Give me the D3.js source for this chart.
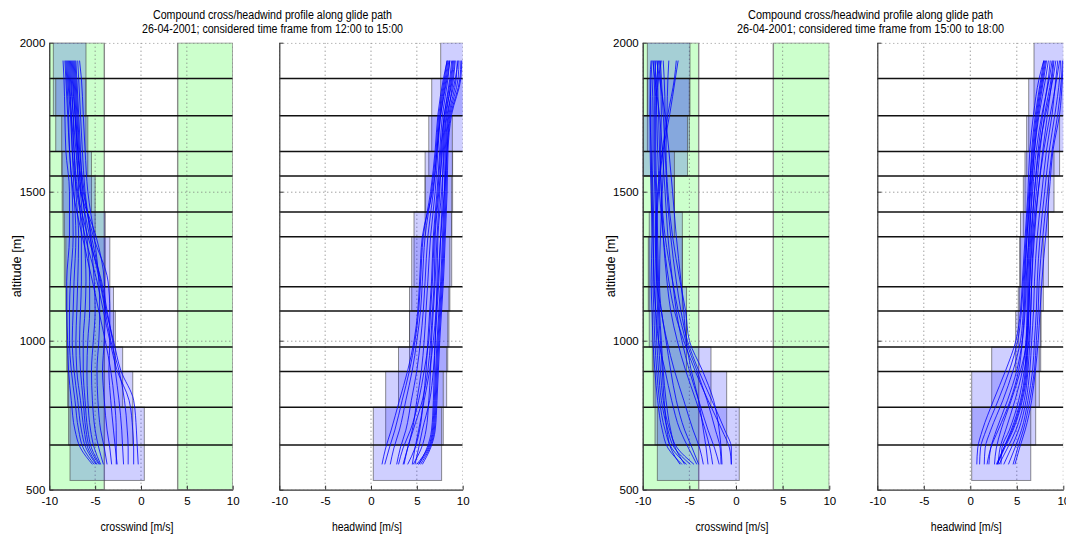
<!DOCTYPE html>
<html><head><meta charset="utf-8">
<script src="https://cdn.jsdelivr.net/npm/d3@7"></script>
<style>
body{margin:0;background:#fff}
svg{display:block}
text{font-family:"Liberation Sans",Arial,Helvetica,sans-serif;fill:#000}
</style>
</head><body>
<svg id="chart" width="1066" height="537"></svg>
<script>
// ---------------- DATA ----------------
const xTicks = [-10, -5, 0, 5, 10];
const yTicks = [500, 1000, 1500, 2000];
// glide-path segment boundaries (altitude, m)
const bandEdges = [2000, 1880, 1755, 1635, 1553, 1432, 1349, 1181, 1100, 979, 897, 777, 650, 531];
// altitudes at which the profile values are read
const profileAlt = [1940, 1880, 1760, 1640, 1500, 1350, 1200, 1100, 1000, 900, 800, 700, 640, 585];

const titles1 = ["Compound cross/headwind profile along glide path", "Compound cross/headwind profile along glide path"];
const titles2 = ["26-04-2001; considered time frame from 12:00 to 15:00", "26-04-2001; considered time frame from 15:00 to 18:00"];

// min / max boxes, one per 2-segment window
const crossBoxMin1 = [-9.56, -9.3, -8.65, -8.6, -8.5, -8.36, -8.2, -8.1, -8.1, -8.0, -7.9, -7.74];
const crossBoxMax1 = [-6.0, -6.0, -5.8, -5.4, -5.0, -3.9, -3.4, -3.0, -2.8, -2.0, -0.9, 0.36];
const headBoxMin1  = [7.6, 6.62, 6.3, 5.9, 5.9, 4.69, 4.44, 4.2, 4.2, 3.0, 1.6, 0.25];
const headBoxMax1  = [10.5, 10.5, 8.87, 8.9, 8.8, 8.8, 8.6, 8.5, 8.37, 8.25, 7.88, 7.7];
const crossBoxMin2 = [-9.5, -9.5, -10.2, -9.1, -9.0, -9.3, -9.4, -9.3, -8.97, -8.86, -8.68, -8.43];
const crossBoxMax2 = [-4.93, -5.0, -5.2, -6.6, -6.6, -5.75, -5.75, -5.3, -5.3, -2.68, -1.0, 0.35];
const headBoxMin2  = [6.85, 6.28, 6.06, 5.88, 5.7, 5.4, 5.3, 5.16, 4.88, 2.3, 0.15, 0.15];
const headBoxMax2  = [10.5, 10.5, 9.6, 9.0, 8.4, 8.4, 7.85, 7.6, 7.57, 7.42, 7.03, 6.5];

// crosswind profiles 12:00-15:00 (values at profileAlt)
const crossProfiles1 = [
 [-8.5,-8.4,-8.3,-8.2,-7.8,-7.8,-8.1,-8.1,-8.0,-7.9,-7.6,-7.2,-6.6,-5.3],
 [-8.2,-8.1,-7.9,-7.8,-7.5,-7.4,-7.7,-7.8,-7.8,-7.6,-7.2,-6.8,-6.3,-5.1],
 [-7.9,-7.8,-7.6,-7.5,-7.3,-7.1,-7.3,-7.4,-7.5,-7.3,-6.9,-6.5,-6.0,-4.9],
 [-7.7,-7.6,-7.4,-7.3,-7.1,-6.8,-6.9,-7.0,-7.1,-7.0,-6.6,-6.2,-5.8,-4.8],
 [-7.5,-7.4,-7.2,-7.0,-6.8,-6.5,-6.5,-6.6,-6.7,-6.6,-6.3,-6.0,-5.6,-4.6],
 [-7.3,-7.2,-7.0,-6.8,-6.6,-6.2,-6.0,-6.1,-6.3,-6.3,-6.1,-5.8,-5.4,-4.5],
 [-7.1,-7.0,-6.8,-6.6,-6.4,-5.9,-5.6,-5.6,-5.8,-5.9,-5.8,-5.5,-5.1,-4.4],
 [-6.9,-6.8,-6.6,-6.4,-6.1,-5.5,-5.1,-5.0,-5.2,-5.4,-5.3,-5.0,-4.6,-4.1],
 [-6.7,-6.5,-6.3,-6.1,-5.8,-5.1,-4.6,-4.5,-4.6,-4.8,-4.7,-4.4,-4.0,-3.7],
 [-7.8,-7.7,-7.4,-7.1,-6.6,-4.9,-4.0,-3.9,-4.0,-4.2,-4.0,-3.7,-3.4,-3.2],
 [-7.6,-7.5,-7.2,-6.9,-6.3,-5.2,-3.6,-3.4,-3.4,-3.5,-3.3,-3.0,-2.8,-2.6],
 [-8.0,-7.9,-7.6,-7.3,-6.9,-5.8,-4.3,-3.7,-3.1,-2.8,-2.4,-2.1,-2.0,-1.9],
 [-7.4,-7.3,-7.1,-6.9,-6.5,-5.6,-4.5,-3.9,-3.3,-2.4,-1.8,-1.5,-1.4,-1.4],
 [-8.1,-8.0,-7.7,-7.5,-7.0,-6.1,-4.8,-4.1,-3.4,-2.6,-1.3,-0.9,-0.8,-0.8],
 [-7.2,-7.1,-6.9,-6.7,-6.2,-5.4,-4.4,-3.8,-3.0,-2.2,-0.8,-0.5,-0.4,-0.3],
 [-8.3,-8.2,-8.0,-7.8,-7.4,-6.4,-5.3,-4.6,-3.9,-3.3,-2.9,-2.7,-2.7,-2.7]
];
// headwind profiles 12:00-15:00
const headProfiles1 = [
 [9.9,9.8,8.8,8.4,8.3,8.1,7.9,7.7,7.5,7.35,7.2,7.0,6.5,5.6],
 [9.6,9.5,8.6,8.3,8.2,8.0,7.8,7.6,7.4,7.25,7.1,6.9,6.4,5.4],
 [9.4,9.3,8.5,8.2,8.1,7.9,7.7,7.5,7.3,7.15,7.0,6.8,6.3,5.2],
 [9.2,9.0,8.4,8.1,8.0,7.8,7.6,7.4,7.2,7.05,6.9,6.7,6.2,5.0],
 [9.0,8.8,8.2,7.9,7.8,7.6,7.4,7.2,7.0,6.9,6.8,6.6,6.1,5.2],
 [8.8,8.6,8.0,7.7,7.5,7.2,7.0,6.8,6.6,6.5,6.3,6.0,5.5,4.6],
 [8.6,8.4,7.8,7.5,7.2,6.8,6.6,6.4,6.2,6.0,5.7,5.3,4.8,4.0],
 [8.5,8.2,7.6,7.3,7.0,6.5,6.2,6.0,5.8,5.5,5.0,4.5,4.0,3.5],
 [8.4,8.1,7.5,7.2,6.8,6.2,5.9,5.7,5.4,5.0,4.4,3.8,3.2,2.8],
 [8.3,8.0,7.4,7.1,6.6,5.9,5.6,5.4,5.0,4.5,3.8,3.1,2.5,2.1],
 [8.3,7.9,7.3,7.0,6.5,5.7,5.4,5.2,4.8,4.2,3.4,2.6,2.0,1.5],
 [8.6,8.3,7.6,7.2,6.7,5.6,5.3,5.1,4.7,4.0,3.1,2.2,1.6,1.2],
 [9.1,8.9,8.1,7.8,7.4,7.0,6.9,6.7,6.5,6.2,5.6,4.6,4.0,3.6],
 [9.8,9.7,8.7,8.3,8.0,7.6,7.3,7.1,6.8,6.4,5.8,5.2,4.8,4.5],
 [9.5,9.2,8.3,8.0,7.7,7.3,7.2,7.1,7.0,6.8,6.4,5.6,5.2,4.8],
 [8.9,8.7,8.0,7.6,7.3,6.9,6.7,6.5,6.3,5.8,5.2,4.3,3.5,3.0]
];
// crosswind profiles 15:00-18:00
const crossProfiles2 = [
 [-9.0,-9.1,-9.2,-9.2,-9.1,-9.0,-9.1,-9.0,-8.9,-8.7,-8.4,-7.9,-7.3,-5.8],
 [-8.8,-8.9,-9.0,-9.0,-8.9,-8.8,-8.9,-8.8,-8.7,-8.5,-8.2,-7.6,-6.9,-5.3],
 [-8.6,-8.7,-8.8,-8.8,-8.7,-8.6,-8.7,-8.6,-8.5,-8.3,-8.0,-7.3,-6.6,-4.9],
 [-8.3,-8.5,-8.7,-8.7,-8.6,-8.5,-8.5,-8.4,-8.3,-8.1,-7.8,-7.1,-6.3,-4.5],
 [-8.0,-8.3,-8.6,-8.6,-8.5,-8.4,-8.3,-8.2,-8.0,-7.8,-7.5,-7.0,-6.5,-5.5],
 [-6.2,-6.5,-7.1,-7.8,-8.3,-8.5,-8.4,-8.3,-8.1,-7.9,-7.7,-7.4,-7.0,-6.0],
 [-6.4,-6.6,-7.3,-7.9,-8.4,-8.6,-8.5,-8.0,-7.5,-7.0,-6.4,-5.5,-4.7,-4.0],
 [-8.9,-8.7,-8.2,-7.9,-7.6,-7.3,-6.8,-6.4,-5.8,-5.0,-4.0,-3.0,-2.3,-1.8],
 [-8.5,-8.2,-7.6,-7.2,-6.8,-6.4,-5.9,-5.6,-5.3,-4.2,-3.1,-2.2,-1.7,-1.6],
 [-8.7,-8.6,-8.5,-8.4,-8.2,-7.8,-7.2,-6.6,-5.6,-4.4,-3.0,-1.5,-0.7,-0.5],
 [-8.1,-8.0,-7.8,-7.6,-7.4,-7.0,-6.4,-5.9,-5.2,-4.0,-2.6,-1.2,-0.5,-0.5],
 [-8.4,-8.4,-8.3,-8.2,-8.0,-7.8,-7.4,-7.0,-6.3,-5.4,-4.3,-3.3,-2.8,-2.5],
 [-7.2,-7.3,-7.4,-7.5,-7.3,-6.8,-6.0,-5.4,-5.0,-3.6,-2.4,-1.8,-1.6,-1.5],
 [-8.2,-8.1,-8.0,-8.1,-8.0,-7.6,-6.8,-6.2,-5.4,-4.8,-4.0,-3.5,-3.2,-3.0],
 [-9.1,-9.2,-9.2,-9.1,-9.0,-8.9,-8.8,-8.6,-8.3,-7.6,-6.9,-6.0,-5.1,-4.2],
 [-7.8,-7.7,-7.6,-7.7,-7.9,-8.1,-8.2,-8.0,-7.4,-6.6,-5.6,-4.6,-3.9,-3.5]
];
// headwind profiles 15:00-18:00
const headProfiles2 = [
 [9.9,9.8,9.4,8.8,8.3,7.8,7.4,7.3,7.1,6.9,6.4,5.7,5.1,4.6],
 [9.7,9.6,9.1,8.5,8.0,7.5,7.2,7.1,6.9,6.7,6.2,5.5,4.8,4.1],
 [9.4,9.2,8.8,8.2,7.7,7.2,6.9,6.8,6.6,6.4,6.0,5.2,4.4,3.6],
 [9.0,8.8,8.3,7.8,7.3,6.9,6.6,6.5,6.4,6.2,5.8,4.9,4.0,3.1],
 [8.6,8.4,7.8,7.3,6.9,6.6,6.4,6.3,6.2,6.1,5.6,4.6,3.7,2.9],
 [8.2,7.9,7.3,6.9,6.6,6.4,6.2,6.2,6.1,6.0,5.5,4.5,3.6,2.8],
 [7.9,7.6,7.0,6.6,6.4,6.3,6.1,6.1,6.0,5.9,5.4,4.4,3.6,2.9],
 [9.2,8.9,8.1,7.4,6.9,6.5,6.3,6.2,6.0,5.6,4.8,3.8,3.2,3.0],
 [8.8,8.5,7.7,7.1,6.7,6.3,6.0,5.9,5.6,5.0,4.0,2.8,2.2,2.0],
 [8.4,8.1,7.4,6.9,6.5,6.1,5.8,5.7,5.4,4.6,3.5,2.2,1.6,1.5],
 [8.0,7.7,7.1,6.7,6.3,6.0,5.7,5.5,5.1,4.2,3.0,1.7,1.1,1.0],
 [7.9,7.4,6.8,6.4,6.2,5.9,5.6,5.4,4.9,3.8,2.5,1.3,0.8,0.7],
 [9.6,9.3,8.6,7.9,7.3,6.8,6.6,6.5,6.3,5.8,5.2,4.2,3.4,3.3],
 [8.9,8.7,8.0,7.5,7.1,6.7,6.4,6.3,6.1,5.4,4.4,3.3,2.8,2.6],
 [10.0,9.9,9.6,8.9,8.5,8.1,7.7,7.5,7.3,7.0,6.6,5.9,5.3,4.8],
 [8.1,7.8,7.2,6.8,6.4,6.1,5.9,5.8,5.6,5.2,4.3,3.0,2.2,1.8]
];
// comfort limits shaded green on the crosswind panels
const crossLimitBands = [[-10, -4], [4, 10]];

// ---------------- LAYOUT ----------------
const figures = [
  {titleX: 272.5, tw1: 239, tw2: 261, ylabX: 21,
   panels: [
    {x0: 49.3, x1: 232.7, kind: "cross", label: "crosswind [m/s]", lw: 73, boxMin: crossBoxMin1, boxMax: crossBoxMax1, prof: crossProfiles1},
    {x0: 279.3, x1: 462.7, kind: "head", label: "headwind [m/s]", lw: 70, boxMin: headBoxMin1, boxMax: headBoxMax1, prof: headProfiles1}
  ]},
  {titleX: 870.5, tw1: 245, tw2: 267, ylabX: 615,
   panels: [
    {x0: 642.7, x1: 829.3, kind: "cross", label: "crosswind [m/s]", lw: 73, boxMin: crossBoxMin2, boxMax: crossBoxMax2, prof: crossProfiles2},
    {x0: 877.3, x1: 1063.3, kind: "head", label: "headwind [m/s]", lw: 71, boxMin: headBoxMin2, boxMax: headBoxMax2, prof: headProfiles2}
  ]}
];
const yTop = 42.7, yBot = 489.7;
const svg = d3.select("#chart");
const defs = svg.append("defs");
const y = d3.scaleLinear().domain([500, 2000]).range([yBot, yTop]);

figures.forEach((fig, fi) => {
  // titles
  svg.append("text").attr("x", fig.titleX).attr("y", 19).attr("text-anchor", "middle")
    .attr("font-size", 12).attr("textLength", fig.tw1).attr("lengthAdjust", "spacingAndGlyphs").text(titles1[fi]);
  svg.append("text").attr("x", fig.titleX).attr("y", 33).attr("text-anchor", "middle")
    .attr("font-size", 12).attr("textLength", fig.tw2).attr("lengthAdjust", "spacingAndGlyphs").text(titles2[fi]);
  // y label
  svg.append("text").attr("transform", `translate(${fig.ylabX},${(yTop + yBot) / 2}) rotate(-90)`)
    .attr("text-anchor", "middle").attr("font-size", 12).attr("textLength", 62)
    .attr("lengthAdjust", "spacingAndGlyphs").text("altitude [m]");

  fig.panels.forEach((p, pi) => {
    const x = d3.scaleLinear().domain([-10, 10]).range([p.x0, p.x1]);
    const cid = `clip${fi}${pi}`;
    defs.append("clipPath").attr("id", cid).append("rect")
      .attr("x", p.x0).attr("y", yTop).attr("width", p.x1 - p.x0).attr("height", yBot - yTop);
    const g = svg.append("g");
    const inner = g.append("g").attr("clip-path", `url(#${cid})`);

    if (p.kind === "cross") {
      inner.selectAll("rect.lim").data(crossLimitBands).join("rect").attr("class", "lim")
        .attr("x", d => x(d[0])).attr("width", d => x(d[1]) - x(d[0]))
        .attr("y", y(2000)).attr("height", y(500) - y(2000))
        .attr("fill", "#ccffcc").attr("stroke", "#8a8a8a").attr("stroke-width", 1.4);
    }
    // grid
    inner.selectAll("line.gx").data(xTicks).join("line").attr("class", "gx")
      .attr("x1", d => x(d)).attr("x2", d => x(d)).attr("y1", yTop).attr("y2", yBot)
      .attr("stroke", "#777").attr("stroke-width", 1).attr("stroke-dasharray", "1,3");
    inner.selectAll("line.gy").data(yTicks).join("line").attr("class", "gy")
      .attr("x1", p.x0).attr("x2", p.x1).attr("y1", d => y(d) + 0.5).attr("y2", d => y(d) + 0.5)
      .attr("stroke", "#777").attr("stroke-width", 1).attr("stroke-dasharray", "1,3");

    // min/max boxes
    const boxes = p.boxMin.map((mn, k) => ({mn, mx: p.boxMax[k], top: bandEdges[k], bot: bandEdges[k + 2]}));
    inner.selectAll("rect.box").data(boxes).join("rect").attr("class", "box")
      .attr("x", d => x(d.mn)).attr("width", d => x(d.mx) - x(d.mn))
      .attr("y", d => y(d.top)).attr("height", d => y(d.bot) - y(d.top))
      .attr("fill", "#0000ff").attr("fill-opacity", 0.19)
      .attr("stroke", "#444").attr("stroke-opacity", 0.6).attr("stroke-width", 1);

    // segment lines
    inner.selectAll("line.seg").data(bandEdges.slice(1, 13)).join("line").attr("class", "seg")
      .attr("x1", p.x0).attr("x2", p.x1).attr("y1", d => y(d)).attr("y2", d => y(d))
      .attr("stroke", "#111").attr("stroke-width", 1.5);

    // profiles
    const line = d3.line().x(d => x(d[0])).y(d => y(d[1])).curve(d3.curveMonotoneY);
    inner.selectAll("path.prof").data(p.prof).join("path").attr("class", "prof")
      .attr("d", vals => line(vals.map((v, i) => [v, profileAlt[i]])))
      .attr("fill", "none").attr("stroke", "#0000ff").attr("stroke-width", 1).attr("stroke-opacity", 0.8);

    // axes
    const ax = g.append("g").attr("transform", `translate(0,${yBot})`)
      .call(d3.axisBottom(x).tickValues(xTicks).tickSize(-4).tickSizeOuter(0).tickPadding(7)
        .tickFormat(d3.format("d")));
    const ay = g.append("g").attr("transform", `translate(${p.x0},0)`)
      .call(d3.axisLeft(y).tickValues(yTicks).tickSize(-4).tickSizeOuter(0).tickPadding(4)
        .tickFormat(p.kind === "cross" ? d3.format("d") : () => ""));
    [ax, ay].forEach(a => {
      a.selectAll("text").attr("font-size", 11.5).attr("font-family", '"Liberation Sans",Arial,sans-serif').attr("fill", "#000");
      a.select(".domain").attr("stroke", "#333").attr("stroke-width", 1.2);
      a.selectAll(".tick line").attr("stroke", "#333");
    });
    ax.selectAll("text").text(d => d < 0 ? "-" + Math.abs(d) : d);

    g.append("text").attr("x", (p.x0 + p.x1) / 2 - 4).attr("y", 531).attr("text-anchor", "middle")
      .attr("font-size", 12).attr("textLength", p.lw).attr("lengthAdjust", "spacingAndGlyphs").text(p.label);
  });
});
</script>
</body></html>
